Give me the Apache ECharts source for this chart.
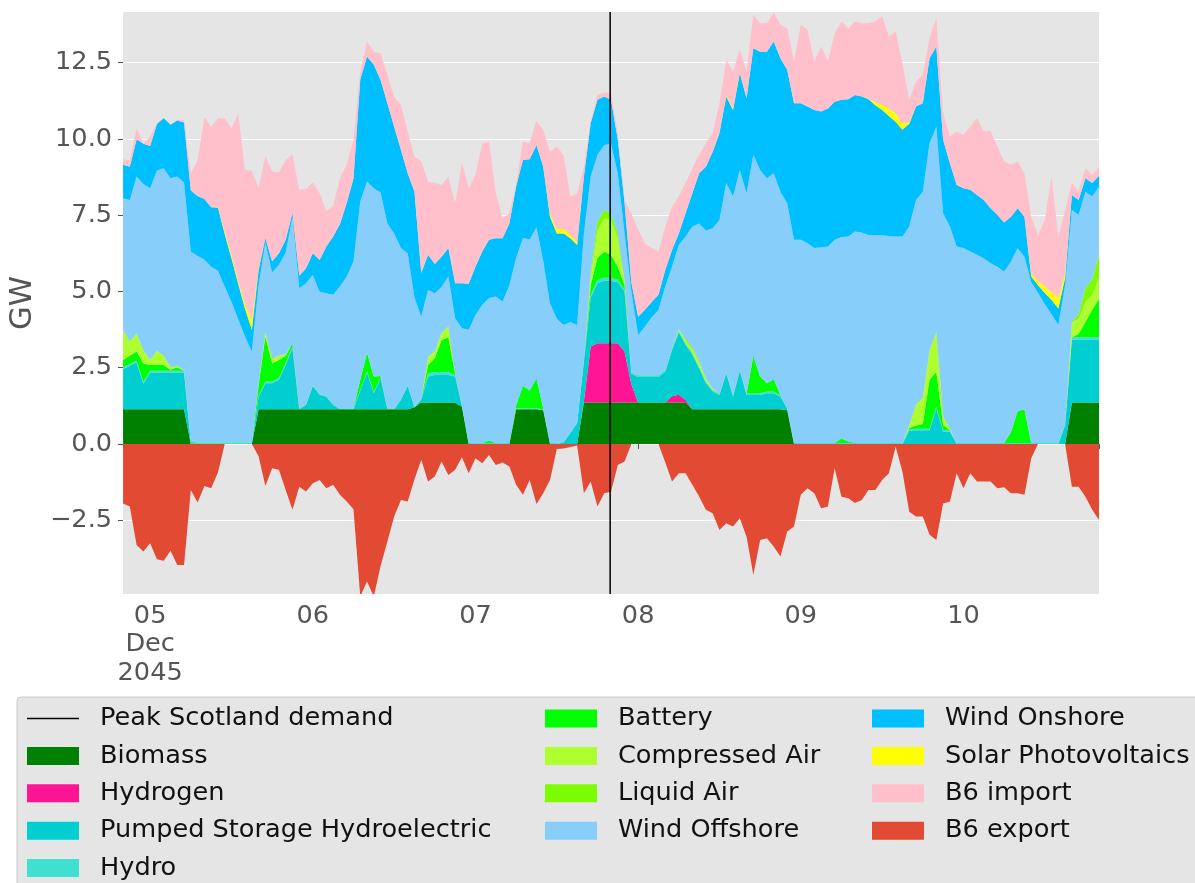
<!DOCTYPE html>
<html>
<head>
<meta charset="utf-8">
<title>Scotland generation mix</title>
<script src="https://cdn.jsdelivr.net/npm/echarts@6/dist/echarts.min.js"></script>
<style>
  html, body { margin: 0; padding: 0; background: #fff; }
  #chart { width: 1195px; height: 883px; }
</style>
</head>
<body>
<div id="chart"></div>
<script>
// hourly values (GW); x is hours since 2045-12-04 20:00
const startTime = new Date(2045, 11, 4, 20).getTime()
const lastHour = 144
const peakHour = 71.87

const dayTicks = [4, 28, 52, 76, 100, 124]   // midnights of Dec 5..10
const yTicks = [-2.5, 0, 2.5, 5, 7.5, 10, 12.5]
const yMin = -4.92
const yMax = 14.16

const biomass = [
  1.14,1.14,1.14,1.14,1.14,1.14,1.14,1.14,1.14,1.14,0,0,
  0,0,0,0,0,0,0,0,1.14,1.14,1.14,1.14,
  1.14,1.14,1.14,1.14,1.14,1.14,1.14,1.14,1.14,1.14,1.14,1.14,
  1.14,1.14,1.14,1.14,1.14,1.14,1.14,1.2,1.36,1.36,1.36,1.36,
  1.36,1.36,1.22,0,0,0,0,0,0,0,1.14,1.14,
  1.14,1.14,1.1,0,0,0,0,0,1.36,1.36,1.36,1.36,
  1.36,1.36,1.36,1.36,1.36,1.36,1.36,1.36,1.36,1.36,1.36,1.36,
  1.14,1.14,1.14,1.14,1.14,1.14,1.14,1.14,1.14,1.14,1.14,1.14,
  1.14,1.14,1.1,0,0,0,0,0,0,0,0,0,
  0,0,0,0,0,0,0,0,0,0,0,0,
  0,0,0,0,0,0,0,0,0,0,0,0,
  0,0,0,0,0,0,0,0,1.36,1.36,1.36,1.36,
  1.36
]
const hydrogen = [
  0,0,0,0,0,0,0,0,0,0,0,0,
  0,0,0,0,0,0,0,0,0,0,0,0,
  0,0,0,0,0,0,0,0,0,0,0,0,
  0,0,0,0,0,0,0,0,0,0,0,0,
  0,0,0,0,0,0,0,0,0,0,0,0,
  0,0,0,0,0,0,0,0,0.05,1.83,1.94,1.94,
  1.94,1.94,1.67,0.6,0,0,0,0,0,0.2,0.25,0.08,
  0,0,0,0,0,0,0,0,0,0,0,0,
  0,0,0,0,0,0,0,0,0,0,0,0,
  0,0,0,0,0,0,0,0,0,0,0,0,
  0,0,0,0,0,0,0,0,0,0,0,0,
  0,0,0,0,0,0,0,0,0,0,0,0,
  0
]
const pumpedStorage = [
  1.31,1.42,1.53,0.83,1.2,1.2,1.2,1.2,1.2,1.2,0,0,
  0,0,0,0,0,0,0,0,0.4,0.85,0.85,0.96,
  1.45,2.0,0,0.14,0.76,0.47,0.41,0.14,0,0,0,0.6,
  1.2,0.52,1.01,0,0,0.3,0.76,0,0.1,0.85,0.9,0.9,
  0.9,0.85,0.02,0,0,0,0,0,0,0,0,0,
  0,0,0,0,0,0.05,0.35,0.68,1.3,1.61,1.97,2.05,
  2.05,2.0,1.97,0.34,0.83,0.83,0.83,0.83,1.01,1.52,2.04,1.81,
  1.78,1.34,0.85,0.58,0.46,1.18,0.41,1.26,0.46,0.46,0.46,0.52,
  0.52,0.41,0.05,0,0,0,0,0,0,0,0,0,
  0,0,0,0,0,0,0,0,0.42,0.45,0.45,0.45,
  1.17,0.4,0.4,0,0,0,0,0,0,0,0,0,
  0,0,0,0,0,0,0,0.6,2.06,2.06,2.06,2.06,
  2.06
]
const hydro = [
  0.06,0.06,0.06,0.06,0.06,0.06,0.06,0.06,0.06,0.06,0.03,0.03,
  0.03,0.03,0.03,0.03,0.03,0.03,0.03,0.03,0.03,0.06,0.06,0.06,
  0.06,0.06,0.03,0.03,0.03,0.03,0.03,0.03,0.03,0.03,0.03,0.03,
  0.05,0.03,0.03,0.03,0.03,0.03,0.03,0.03,0.03,0.1,0.1,0.1,
  0.1,0.05,0.03,0.03,0.03,0.03,0.03,0.03,0.03,0.03,0.03,0.03,
  0.03,0.03,0.03,0.03,0.03,0.03,0.03,0.03,0.05,0.08,0.11,0.1,
  0.1,0.08,0.05,0.06,0.06,0.06,0.06,0.06,0.06,0.06,0.06,0.05,
  0.05,0.05,0.05,0.05,0.05,0.05,0.05,0.05,0.05,0.06,0.06,0.06,
  0.06,0.05,0.03,0.03,0.03,0.03,0.03,0.03,0.03,0.03,0.03,0.03,
  0.03,0.03,0.03,0.03,0.03,0.03,0.03,0.03,0.05,0.05,0.05,0.05,
  0.05,0.05,0.05,0.03,0.03,0.03,0.03,0.03,0.03,0.03,0.03,0.03,
  0.03,0.03,0.03,0.03,0.03,0.03,0.03,0.05,0.08,0.08,0.08,0.08,
  0.08
]
const battery = [
  0.24,0.27,0.3,0.61,0.19,0.19,0.19,0.03,0.11,0,0.03,0.02,
  0.02,0.02,0.02,0.02,0.02,0.02,0.02,0,0.35,1.47,0.59,0.59,
  0.24,0.1,0,0,0,0,0,0,0,0,0,0.33,
  0.6,0.52,0.05,0,0,0,0,0,0,0.28,0.45,1.05,
  1.14,0.05,0,0,0,0,0.08,0,0,0,0.1,0.74,
  0.58,0.98,0.03,0,0,0,0,0,0,0.32,0.72,0.85,
  0.75,0.42,0.15,0,0,0,0,0,0,0,0,0,
  0,0,0,0,0,0,0,0,0,1.23,0.55,0.27,
  0.4,0,0,0,0,0,0,0,0,0,0.15,0.05,
  0,0,0,0,0,0,0,0,0.05,0.1,0.15,1.6,
  1.15,0.17,0,0,0,0,0,0,0,0,0,0.35,
  1.05,1.1,0,0,0,0,0,0,0,0.1,0.5,0.9,
  1.25
]
const compressedAir = [
  0.99,0.47,0.6,0.44,0.16,0.47,0.3,0.08,0.05,0.02,0,0,
  0,0,0,0,0,0,0,0,0.05,0.16,0.16,0.14,
  0.05,0,0,0,0,0,0,0,0,0,0,0,
  0,0,0,0,0,0,0,0,0,0.27,0.22,0.24,
  0.35,0,0,0,0,0,0,0,0,0,0,0,
  0,0,0,0,0,0,0,0,0,0.3,0.9,1.1,
  1.15,0.95,0.1,0,0,0,0,0,0,0,0.05,0.1,
  0.15,0.15,0.1,0.05,0,0,0,0,0,0,0,0,
  0,0,0,0,0,0,0,0,0,0,0,0,
  0,0,0,0,0,0,0,0,0.1,0.7,0.85,0.98,
  1.31,0.28,0.05,0,0,0,0,0,0,0,0,0,
  0,0,0,0,0,0,0,0,0.5,0.5,0.65,0.5,
  0.7
]
const liquidAir = [
  0,0,0,0,0,0,0,0,0,0,0,0,
  0,0,0,0,0,0,0,0,0,0,0,0,
  0,0,0,0,0,0,0,0,0,0,0,0,
  0,0,0,0,0,0,0,0,0,0,0,0,
  0,0,0,0,0,0,0,0,0,0,0,0,
  0,0,0,0,0,0,0,0,0,0.1,0.3,0.27,
  0.2,0.15,0.05,0,0,0,0,0,0,0,0,0.05,
  0.05,0.05,0,0,0,0,0,0,0,0,0,0,
  0,0,0,0,0,0,0,0,0,0,0,0,
  0,0,0,0,0,0,0,0,0,0,0,0,
  0,0,0,0,0,0,0,0,0,0,0,0,
  0,0,0,0,0,0,0,0,0,0.15,0.45,0.5,
  0.75
]
const windOffshore = [
  4.31,4.64,5.14,5.44,5.63,5.90,6.15,6.20,6.21,6.15,6.25,6.11,
  6.00,5.76,5.63,5.11,4.61,4.04,3.47,3.00,3.23,2.92,2.82,2.98,
  3.33,4.15,3.93,3.96,3.61,3.35,3.36,3.58,3.99,4.32,4.81,5.85,
  5.61,6.17,6.01,6.06,5.73,4.95,4.32,3.57,2.68,2.19,1.91,1.50,
  1.65,1.81,2.52,3.71,4.20,4.53,4.67,4.80,4.64,5.17,4.83,4.84,
  4.95,4.95,4.84,4.57,4.07,3.82,3.62,3.19,4.14,3.17,2.18,2.13,
  2.29,1.97,1.55,2.64,1.32,1.60,1.90,2.14,2.73,2.67,2.76,3.35,
  3.96,4.50,4.86,5.25,5.69,6.18,6.51,6.53,6.57,6.59,6.77,6.72,
  6.75,6.67,6.71,6.66,6.66,6.55,6.39,6.42,6.44,6.66,6.60,6.72,
  6.93,6.90,6.82,6.82,6.81,6.79,6.77,6.77,6.51,6.70,6.77,6.78,
  6.72,6.66,6.63,6.44,6.39,6.28,6.17,6.06,5.89,5.78,5.62,5.60,
  5.34,5.01,5.28,4.93,4.56,4.22,3.87,4.55,3.67,3.26,3.17,2.71,
  2.24
]
const windOnshore = [
  1.10,1.09,1.22,1.32,1.39,1.53,1.64,1.75,1.83,1.97,2.00,1.97,
  1.98,1.95,2.07,1.72,1.43,1.15,0.91,0.71,0.50,0.15,0.36,0.38,
  0.42,0.13,0.41,0.49,0.71,1.04,1.53,1.91,2.04,2.41,2.72,4.00,
  4.10,4.05,3.69,3.94,3.50,3.22,2.62,3.47,1.43,1.15,0.96,0.99,
  0.92,1.15,1.48,1.51,1.58,1.75,1.91,1.91,2.07,2.03,2.34,2.56,
  2.63,2.70,3.09,2.85,2.80,3.00,2.74,2.62,1.87,1.74,1.80,1.59,
  1.44,1.10,0.99,0.30,0.60,0.55,0.50,0.50,0.54,0.55,0.38,0.76,
  1.09,1.64,2.09,2.51,2.85,2.84,2.84,3.17,3.11,3.49,3.88,4.15,
  4.32,4.37,4.37,4.48,4.48,4.48,4.53,4.45,4.53,4.53,4.50,4.50,
  4.48,4.46,4.45,4.25,4.11,3.93,3.75,3.50,3.37,3.06,2.90,2.78,
  2.63,2.41,2.07,2.02,1.96,2.02,1.96,1.91,1.81,1.70,1.61,1.47,
  1.31,1.31,0.18,0.24,0.36,0.47,0.54,0.25,0.49,0.49,0.44,0.44,
  0.35
]
const solar = [
  0,0,0,0,0,0,0,0,0,0,0,0,
  0,0,0.03,0.08,0.1,0.12,0.15,0.3,0.05,0,0,0,
  0,0,0,0,0,0,0,0,0,0,0,0,
  0,0,0,0,0,0,0,0,0,0,0,0,
  0,0,0,0,0,0,0,0,0,0,0,0,
  0,0,0,0.1,0.15,0.15,0.12,0.1,0,0,0,0,
  0,0,0,0,0,0,0,0,0,0,0,0,
  0,0,0,0,0,0.05,0.05,0.04,0,0,0,0,
  0,0,0,0,0,0,0,0,0,0,0,0,
  0,0,0.02,0.1,0.18,0.25,0.28,0.2,0.05,0,0,0,
  0,0,0,0,0,0,0,0,0,0,0,0,
  0,0,0.1,0.15,0.2,0.25,0.35,0.15,0,0,0,0,
  0
]
const b6Import = [
  0.18,0.20,0.36,0.02,0.31,0.02,0,0,0.02,0.08,0.56,1.18,
  2.68,2.64,2.90,3.72,4.16,5.48,4.40,4.92,2.63,2.69,2.95,2.65,
  2.62,1.92,2.82,2.60,2.32,2.19,1.17,1.00,1.51,1.25,1.27,0.25,
  0.49,0.43,0.88,0.93,0.99,1.47,1.37,1.15,3.66,2.40,2.65,2.35,
  2.35,2.62,3.95,3.13,3.01,3.55,3.22,1.48,0.66,0.33,0.05,0.60,
  0.53,0.80,1.21,2.03,2.70,2.43,1.25,1.60,0.32,0.05,0.16,0.13,
  0.22,0.22,0.11,2.26,2.85,2.18,1.77,1.42,1.43,1.42,1.21,0.99,
  0.82,0.61,0.77,0.61,0.98,1.15,1.21,0.75,0.88,1.10,0.93,0.93,
  0.95,1.10,1.37,1.37,2.57,2.51,1.59,2.13,1.54,2.24,2.57,2.33,
  2.41,2.40,2.47,2.65,2.88,2.36,2.69,1.98,0.73,0.82,0.93,0.66,
  0.93,0.87,0.88,1.75,1.75,2.07,2.52,2.24,2.54,2.24,2.00,1.70,
  1.53,1.42,1.86,1.50,2.19,3.80,2.01,2.07,0.39,0.27,0.33,0.27,
  0.30
]
const b6Export = [
  -1.95,-2.05,-3.31,-3.53,-3.26,-3.78,-3.83,-3.5,-3.97,-3.97,-1.51,-1.92,
  -1.38,-1.45,-0.94,0,0,0,0,0,-0.4,-1.38,-0.8,-0.85,
  -1.51,-2.16,-1.4,-1.56,-1.29,-1.18,-1.45,-1.34,-1.67,-1.89,-2.14,-5.0,
  -4.51,-5.0,-4.0,-3.2,-2.38,-1.84,-1.89,-1.16,-0.52,-1.23,-1.07,-0.58,
  -1.02,-0.85,-0.44,-0.96,-0.47,-0.63,-0.36,-0.69,-0.61,-0.74,-1.34,-1.67,
  -1.18,-1.97,-1.62,-1.18,-0.17,-0.15,-0.1,-0.05,-1.62,-1.23,-2.05,-1.62,
  -1.57,-0.69,-0.58,0,0,0,0,0,-0.6,-1.23,-0.96,-0.96,
  -1.34,-1.72,-2.16,-2.27,-2.82,-2.6,-2.71,-2.44,-3.04,-4.3,-3.15,-3.09,
  -3.36,-3.69,-2.87,-2.71,-1.67,-1.45,-1.62,-2.11,-2.05,-0.8,-1.73,-1.78,
  -1.94,-1.84,-1.51,-1.51,-1.18,-0.96,-0.09,-0.91,-2.22,-2.38,-2.38,-2.98,
  -3.15,-1.95,-1.89,-0.96,-1.45,-0.96,-1.23,-1.23,-1.23,-1.45,-1.42,-1.62,
  -1.62,-1.67,-0.47,0,0,0,0,0,-1.4,-1.4,-1.73,-2.16,
  -2.49
]

const hours = biomass.map((v, i) => i)

// stacked order, bottom to top
const stacked = [
  { name: 'Biomass', values: biomass, color: '#008000' },
  { name: 'Hydrogen', values: hydrogen, color: '#FF1493' },
  { name: 'Pumped Storage Hydroelectric', values: pumpedStorage, color: '#00CED1' },
  { name: 'Hydro', values: hydro, color: '#40E0D0' },
  { name: 'Battery', values: battery, color: '#00FF00' },
  { name: 'Compressed Air', values: compressedAir, color: '#ADFF2F' },
  { name: 'Liquid Air', values: liquidAir, color: '#7CFC00' },
  { name: 'Wind Offshore', values: windOffshore, color: '#87CEFA' },
  { name: 'Wind Onshore', values: windOnshore, color: '#00BFFF' },
  { name: 'Solar Photovoltaics', values: solar, color: '#FFFF00' },
  { name: 'B6 import', values: b6Import, color: '#FFC0CB' }
]

function areaSeries(item, stack) {
  return {
    name: item.name,
    type: 'line',
    stack: stack,
    data: item.values,
    color: item.color,
    symbol: 'none',
    lineStyle: { width: 0 },
    areaStyle: { color: item.color, opacity: 1 },
    emphasis: { disabled: true },
    silent: true
  }
}

const series = [areaSeries({ name: 'B6 export', values: b6Export, color: '#E24A33' }, null)]
stacked.forEach(item => series.push(areaSeries(item, 'gen')))
series.push({
  name: 'Peak Scotland demand',
  type: 'line',
  xAxisIndex: 1,
  data: [[peakHour, yMin], [peakHour, yMax]],
  color: '#000',
  symbol: 'none',
  lineStyle: { color: '#000', width: 1.5 },
  z: 10,
  silent: true
})

const legendText = {
  color: '#111',
  fontFamily: 'DejaVu Sans',
  fontSize: 25.6,
  padding: [0, 0, 0, 16]
}
function legendCol(left, names) {
  return {
    orient: 'vertical',
    left: left,
    top: 705.5,
    height: 200,
    padding: 0,
    itemWidth: 52,
    itemHeight: 18,
    itemGap: 11.4,
    selectedMode: false,
    textStyle: legendText,
    data: names.map(n => n === 'Peak Scotland demand'
      ? { name: n, icon: 'path://M0,0M0,8.2L52,8.2L52,9.8L0,9.8ZM52,18' }
      : { name: n, icon: 'rect' })
  }
}

function dayLabel(h) {
  const d = new Date(startTime + h * 3600 * 1000)
  const day = String(d.getDate()).padStart(2, '0')
  return h === dayTicks[0] ? day + '\nDec\n2045' : day
}

const chart = echarts.init(document.getElementById('chart'))
chart.setOption({
  animation: false,
  backgroundColor: '#fff',
  textStyle: { fontFamily: 'DejaVu Sans' },
  graphic: [{
    type: 'rect',
    shape: { x: 17, y: 697, width: 1200, height: 200, r: 4 },
    style: { fill: '#E5E5E5', stroke: '#CCCCCC', lineWidth: 1 },
    silent: true
  }],
  grid: {
    left: 121,
    top: 12,
    width: 978,
    height: 582,
    show: true,
    backgroundColor: '#E5E5E5',
    borderWidth: 0
  },
  legend: [
    legendCol(27, ['Peak Scotland demand', 'Biomass', 'Hydrogen', 'Pumped Storage Hydroelectric', 'Hydro']),
    legendCol(545, ['Battery', 'Compressed Air', 'Liquid Air', 'Wind Offshore']),
    legendCol(872, ['Wind Onshore', 'Solar Photovoltaics', 'B6 import', 'B6 export'])
  ],
  xAxis: [{
    type: 'category',
    data: hours,
    boundaryGap: false,
    axisLine: { show: false },
    axisTick: {
      show: true,
      length: 5,
      lineStyle: { color: '#555' },
      interval: i => i === 0 || i === lastHour || dayTicks.indexOf(i) >= 0
    },
    axisLabel: {
      interval: i => dayTicks.indexOf(i) >= 0,
      color: '#555',
      fontSize: 25.6,
      lineHeight: 28.5,
      margin: 8,
      align: 'center',
      formatter: (value, index) => dayLabel(index)
    },
    splitLine: { show: false }
  }, {
    type: 'value',
    min: 0,
    max: lastHour,
    show: false
  }],
  yAxis: {
    type: 'value',
    min: yMin,
    max: yMax,
    name: 'GW',
    nameLocation: 'middle',
    nameGap: 76,
    nameTextStyle: { color: '#555', fontSize: 30.7 },
    axisLine: { show: false },
    axisTick: {
      show: true,
      length: 5,
      lineStyle: { color: '#555' },
      customValues: yTicks
    },
    axisLabel: {
      customValues: yTicks,
      color: '#555',
      fontSize: 25.6,
      margin: 11,
      formatter: v => (v < 0 ? '\u2212' : '') + Math.abs(v).toFixed(1)
    },
    splitLine: { show: true, lineStyle: { color: '#fff', width: 1.2 } }
  },
  series: series
})
</script>
</body>
</html>
